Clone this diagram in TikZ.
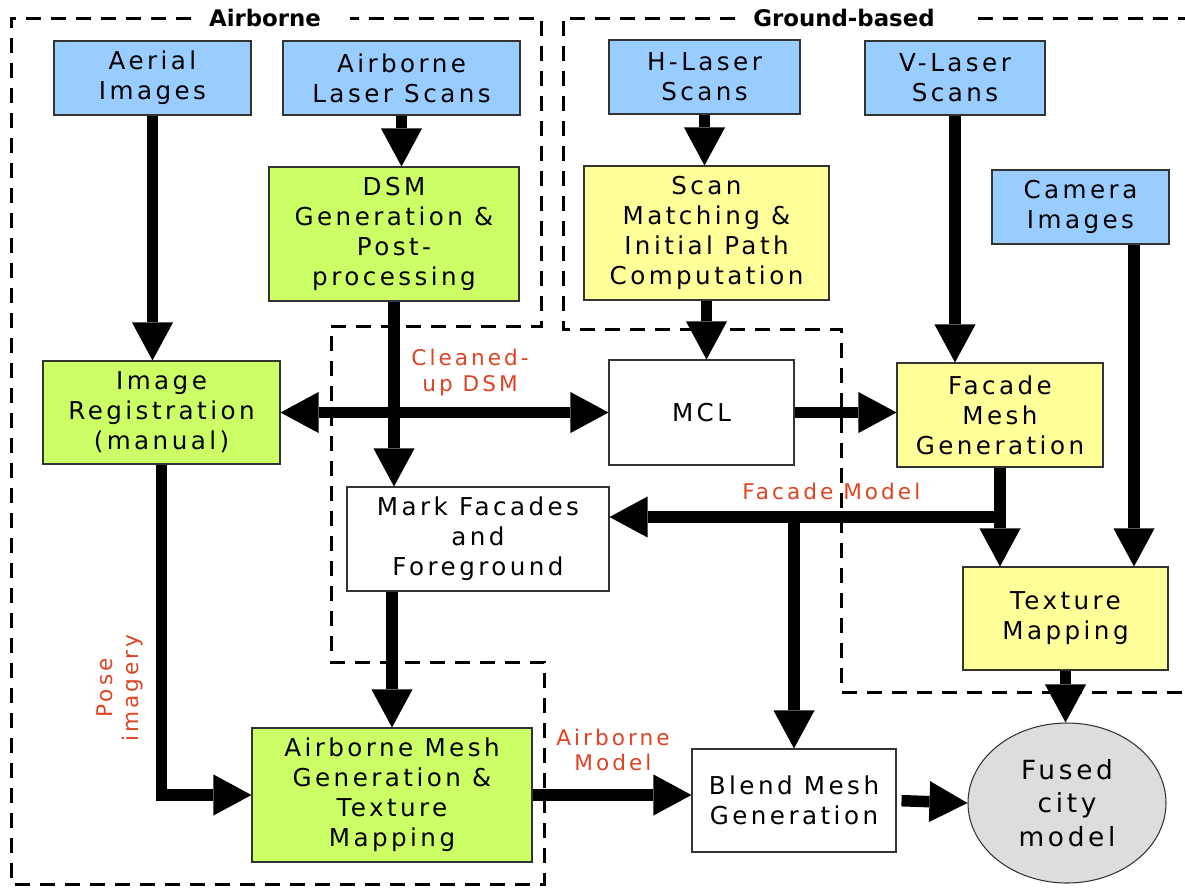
\documentclass[tikz,border=0pt]{standalone}
\usepackage{fontspec}
\setmainfont{DejaVu Sans}
\newfontfamily\spaced[LetterSpace=14]{DejaVu Sans}
\usetikzlibrary{arrows.meta,shapes.geometric}

\definecolor{srcblue}{HTML}{99CCFF}
\definecolor{airgreen}{HTML}{CCFF66}
\definecolor{gndyellow}{HTML}{FFFF99}
\definecolor{fusedgray}{HTML}{DDDDDD}
\definecolor{labelred}{HTML}{DD4422}

\begin{document}
\begin{tikzpicture}[x=0.2mm,y=-0.2mm,>={Triangle[length=7.6mm,width=8.2mm,line width=0pt]},
        sz/.style 2 args={minimum width=#1*0.2mm,minimum height=#2*0.2mm},
        box/.style={draw=black!80,line width=0.6pt,inner sep=0pt,align=center,font=\spaced\fontsize{14}{17}\selectfont},
        src/.style={box,fill=srcblue},
        air/.style={box,fill=airgreen},
        gnd/.style={box,fill=gndyellow},
        proc/.style={box,fill=white},
        fused/.style={box,ellipse,fill=fusedgray,font=\spaced\fontsize{15}{19}\selectfont},
        flow/.style={->,line width=2.3mm},
        lbl/.style={text=labelred,align=center,inner sep=0pt,font=\spaced\fontsize{12.3}{14.7}\selectfont},
        zone/.style={line width=0.6mm,dash pattern=on 3mm off 2mm},
        title/.style={font=\fontsize{13}{15}\selectfont\bfseries}]

                \useasboundingbox (0,0) rectangle (1185,888);

                \draw[zone] (191,18) -- (11,18) -- (11,884) -- (544,884) -- (544,662) -- (331,662)
                            -- (331,326) -- (541,326) -- (541,18) -- (350,18);
                \draw[zone] (735,18) -- (563,18) -- (563,329) -- (841,329) -- (841,692) -- (1185,692);
                \draw[zone] (978,18) -- (1185,18);

                \node[title] (airtitle) at (265,18) {Airborne};
                \node[title] (gndtitle) at (844,18) {Ground-based};

                \node[src,sz={197}{74}] (aerial) at (152.5,78) {Aerial\\Images};
                \node[src,sz={237}{74}] (als) at (401.5,78) {Airborne\\Laser Scans};
                \node[src,sz={191}{74}] (hlaser) at (704.5,77) {H-Laser\\Scans};
                \node[src,sz={180}{74}] (vlaser) at (955,78) {V-Laser\\Scans};
                \node[src,sz={177}{74}] (camera) at (1080.5,207) {Camera\\Images};

                \node[air,sz={250}{134}] (dsm) at (394,234) {DSM\\Generation \&\\Post-\\processing};
                \node[gnd,sz={245}{134}] (scan) at (706.5,233) {Scan\\Matching \&\\Initial Path\\Computation};

                \node[air,sz={237}{103}] (imgreg) at (161.5,412.5) {Image\\Registration\\(manual)};
                \node[proc,sz={185}{105}] (mcl) at (701.5,412.5) {MCL};
                \node[gnd,sz={206}{104}] (facade) at (1000,415) {Facade\\Mesh\\Generation};

                \node[proc,sz={262}{104}] (mark) at (478,539) {Mark Facades\\and\\Foreground};
                \node[gnd,sz={205}{103}] (texture) at (1065.5,618.5) {Texture\\Mapping};

                \node[air,sz={280}{134}] (abmesh) at (392,795) {Airborne Mesh\\Generation \&\\Texture\\Mapping};
                \node[proc,sz={204}{103}] (blend) at (794,800.5) {Blend Mesh\\Generation};
                \node[fused,sz={198}{160}] (city) at (1067,803) {Fused\\city\\model};

                \coordinate (camdrop) at ([xshift=10.7mm]camera.south);
                \coordinate (fmodel) at (facade.south |- 0,517);

                \foreach \from/\to in {aerial/imgreg, als/dsm, hlaser/scan, scan/mcl, vlaser/facade, facade/texture, dsm/mark}
                    {
                    \draw[flow] (\from.south) -- (\from.south |- \to.north);
                    }

                \draw[flow] (camdrop) -- (camdrop |- texture.north);
                \draw[flow] (abmesh.north |- mark.south) -- (abmesh.north);
                \draw[flow] (texture.south) -- (texture.south |- city.north);
                \draw[flow] (mcl.east) -- (mcl.east -| facade.west);
                \draw[flow,shorten <=1mm] (blend.east) -- (city.west);

                \draw[flow,<->] (imgreg.east) -- (imgreg.east -| mcl.west)
                    node[lbl,above=2.1mm,pos=0.578] {Cleaned-\\up DSM};
                \draw[flow] (fmodel) -- (fmodel -| mark.east)
                    node[lbl,above=2.2mm,pos=0.432] {Facade Model};
                \draw[flow] (fmodel -| blend.north) -- (blend.north);
                \draw[flow] (abmesh.east) -- (abmesh.east -| blend.west)
                    node[lbl,above=3.6mm,pos=0.506] {Airborne\\Model};
                \draw[flow] (imgreg.south) |- (abmesh.west)
                    node[lbl,pos=0.338,rotate=90,anchor=south,inner ysep=2.6mm] {Pose\\imagery};

            \end{tikzpicture}
\end{document}
